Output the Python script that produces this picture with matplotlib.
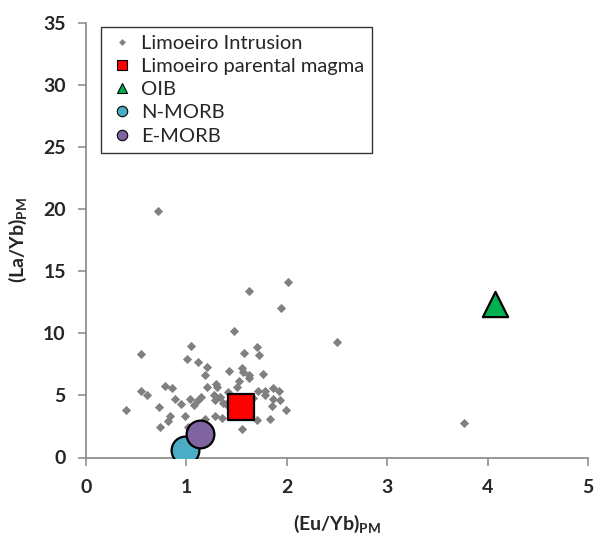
import matplotlib
matplotlib.use("Agg")
import matplotlib.pyplot as plt
from matplotlib.lines import Line2D

# Limoeiro Intrusion whole-rock ratios (primitive-mantle normalised)
intrusion_eu_yb = [0.717, 2.007, 1.628, 1.947, 1.470, 1.049, 1.701, 0.546, 1.572, 1.724,
                   1.007, 1.112, 1.207, 1.428, 1.553, 1.184, 1.566, 1.622, 1.760, 1.628,
                   1.526, 1.293, 1.309, 1.207, 0.789, 0.852, 0.546, 0.612, 1.503, 1.717,
                   1.786, 1.859, 1.921, 1.411, 1.270, 1.786, 1.336, 1.668, 0.882, 1.033,
                   1.145, 1.112, 1.283, 1.862, 1.931, 0.947, 1.072, 1.368, 1.391, 0.401,
                   0.724, 1.855, 1.993, 1.289, 1.355, 0.984, 0.839, 0.816, 1.184, 1.701,
                   1.836, 0.734, 1.013, 1.553, 2.50, 3.76]
intrusion_la_yb = [19.8, 14.15, 13.4, 12.0, 10.2, 8.97, 8.9, 8.33, 8.44, 8.22,
                   7.9, 7.66, 7.26, 7.0, 7.2, 6.62, 6.86, 6.6, 6.68, 6.4,
                   6.17, 5.93, 5.66, 5.66, 5.79, 5.63, 5.39, 5.05, 5.66, 5.39,
                   5.39, 5.63, 5.39, 5.23, 5.05, 5.05, 4.86, 4.78, 4.73, 4.70,
                   4.83, 4.59, 4.59, 4.67, 4.65, 4.33, 4.19, 4.41, 4.27, 3.79,
                   4.03, 4.11, 3.79, 3.36, 3.18, 3.36, 3.31, 2.94, 3.10, 3.02,
                   3.10, 2.48, 2.46, 2.30, 9.28, 2.77]

# Reference compositions
parental_eu_yb, parental_la_yb = [1.54], [4.06]
oib_eu_yb, oib_la_yb = [4.07], [12.37]
nmorb_eu_yb, nmorb_la_yb = [0.99], [0.64]
emorb_eu_yb, emorb_la_yb = [1.14], [1.92]

x_ticks = [0, 1, 2, 3, 4, 5]
y_ticks = [0, 5, 10, 15, 20, 25, 30, 35]

plt.rcParams["font.family"] = ["Lato", "DejaVu Sans"]
plt.rcParams["mathtext.fontset"] = "custom"
plt.rcParams["mathtext.rm"] = "Lato"
plt.rcParams["mathtext.bf"] = "Lato:bold"

fig = plt.figure(figsize=(5.94, 5.34), dpi=100)
ax = fig.add_axes([86 / 594, 1 - 457.5 / 534, 502 / 594, 435 / 534])

ax.scatter(intrusion_eu_yb, intrusion_la_yb, marker="D", s=22, color="#808080",
           linewidths=0, zorder=3)
ax.scatter(parental_eu_yb, parental_la_yb, marker="s", s=330, color="#FF0000",
           edgecolors="black", linewidths=1.6, zorder=4)
ax.scatter(oib_eu_yb, oib_la_yb, marker="^", s=330, color="#00B050",
           edgecolors="black", linewidths=1.6, zorder=4)
ax.scatter(nmorb_eu_yb, nmorb_la_yb, marker="o", s=400, color="#4BACC6",
           edgecolors="black", linewidths=1.6, zorder=4)
ax.scatter(emorb_eu_yb, emorb_la_yb, marker="o", s=400, color="#8064A2",
           edgecolors="black", linewidths=1.6, zorder=5)

ax.set_xlim(0, 5)
ax.set_ylim(0, 35)
ax.set_xticks(x_ticks)
ax.set_yticks(y_ticks)
for side in ("top", "right"):
    ax.spines[side].set_visible(False)
for side in ("left", "bottom"):
    ax.spines[side].set_color("#878787")
    ax.spines[side].set_linewidth(1.2)
ax.tick_params(axis="both", direction="out", length=5.5, width=1.1, color="#878787",
               labelsize=14, labelcolor="#262626")
ax.tick_params(axis="x", pad=10)
ax.tick_params(axis="y", pad=9)
for lbl in ax.get_xticklabels() + ax.get_yticklabels():
    lbl.set_fontweight("bold")

ax.set_xlabel(r"(Eu/Yb)$_{\mathbf{PM}}$", fontsize=14, fontweight="bold",
              color="#262626", labelpad=12)
ax.set_ylabel(r"(La/Yb)$_{\mathbf{PM}}$", fontsize=14, fontweight="bold",
              color="#262626", labelpad=10)

handles = [
    Line2D([], [], ls="none", marker="D", ms=3.5, color="#808080", mew=0,
           label="Limoeiro Intrusion"),
    Line2D([], [], ls="none", marker="s", ms=7.5, mfc="#FF0000", mec="black",
           mew=0.8, label="Limoeiro parental magma"),
    Line2D([], [], ls="none", marker="^", ms=7.5, mfc="#00B050", mec="black",
           mew=0.8, label="OIB"),
    Line2D([], [], ls="none", marker="o", ms=7.5, mfc="#4BACC6", mec="black",
           mew=0.8, label="N-MORB"),
    Line2D([], [], ls="none", marker="o", ms=7.5, mfc="#8064A2", mec="black",
           mew=0.8, label="E-MORB"),
]
leg = ax.legend(handles=handles, loc="upper left", bbox_to_anchor=(0.029, 0.99),
                borderaxespad=0, fontsize=14.5, frameon=True, fancybox=False,
                handlelength=1.3, handletextpad=0.3, labelspacing=0.3,
                borderpad=0.4, labelcolor="#262626")
leg.get_frame().set_edgecolor("black")
leg.get_frame().set_linewidth(1.0)

fig.savefig("out.png", dpi=100, facecolor="white")
